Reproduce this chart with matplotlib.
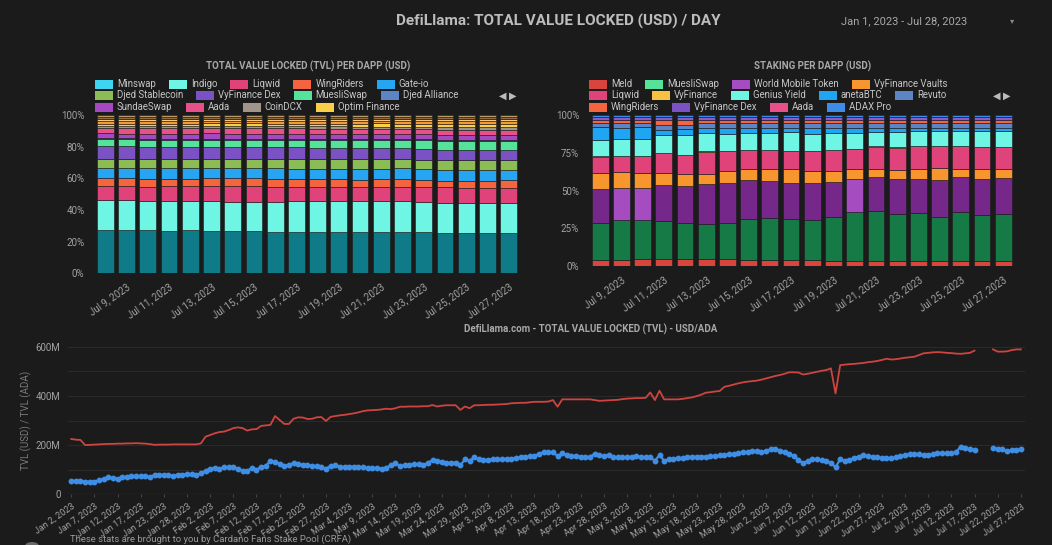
import numpy as np
import pandas as pd
import matplotlib
matplotlib.use('Agg')
import matplotlib.pyplot as plt
from matplotlib.patches import Rectangle, Ellipse

plt.rcParams['font.family'] = ['Roboto', 'DejaVu Sans']
plt.rcParams['axes.unicode_minus'] = False

# ---------------- data ----------------
# TVL per dApp (% share of TVL), Jul 8 .. Jul 27 2023
tvl_dates = pd.date_range('2023-07-08', '2023-07-27')
tvl_names = ['Minswap', 'Indigo', 'Liqwid', 'WingRiders', 'Gate-io', 'Djed Stablecoin',
             'VyFinance Dex', 'MuesliSwap', 'Djed Alliance', 'SundaeSwap', 'Aada', 'CoinDCX',
             'Optim Finance', 'other 1', 'other 2', 'other 3', 'other 4']
tvl_minswap = [27.4, 27.4, 26.9, 26.5, 26.7, 26.7, 26.7, 26.7, 25.9, 25.9, 25.9, 25.9, 25.7, 25.9, 25.9, 25.5, 25.1, 25.1, 25.1, 25.1]
tvl_indigo = [18.3, 18.3, 18.4, 18.3, 18.1, 18.4, 18.1, 18.1, 18.7, 18.9, 18.9, 18.7, 19.1, 19.2, 19.2, 19.1, 18.7, 18.9, 18.5, 18.5]
tvl_liqwid = [9.0, 9.0, 8.8, 9.5, 9.5, 9.6, 9.5, 9.5, 9.5, 9.3, 9.3, 9.1, 8.9, 9.0, 9.0, 9.1, 9.5, 9.3, 9.7, 9.7]
tvl_wingriders = [4.9, 4.9, 4.8, 4.6, 4.6, 4.9, 5.1, 5.1, 4.8, 4.8, 4.8, 4.6, 4.6, 4.8, 4.8, 4.6, 4.2, 4.2, 4.2, 4.6]
tvl_gateio = [6.7, 6.6, 6.6, 6.6, 6.6, 6.5, 6.5, 6.5, 6.5, 6.4, 6.4, 6.5, 6.4, 6.3, 6.5, 6.3, 6.4, 6.5, 6.5, 6.3]
tvl_djed = [5.7, 5.6, 5.8, 5.8, 5.8, 5.8, 5.7, 5.7, 5.9, 5.9, 5.9, 6.0, 6.1, 6.0, 5.9, 6.1, 6.2, 6.3, 6.3, 6.3]
tvl_vydex = [8.0, 7.9, 7.6, 7.5, 7.5, 7.5, 7.4, 7.4, 7.5, 7.4, 7.2, 7.0, 7.1, 7.0, 6.9, 6.8, 6.6, 6.5, 6.4, 6.3]
tvl_muesli = [4.2, 4.2, 4.4, 4.4, 4.4, 4.4, 4.4, 4.4, 4.3, 4.5, 4.6, 4.7, 4.8, 5.0, 4.8, 5.1, 5.2, 5.3, 5.4, 5.5]
tvl_djed_alliance = [0.6, 0.6, 0.6, 0.6, 0.6, 0.6, 0.6, 0.6, 0.6, 0.6, 0.6, 0.6, 0.6, 0.6, 0.6, 0.6, 0.6, 0.6, 0.6, 0.6]
tvl_sundae = [3.0, 3.1, 3.2, 3.3, 3.3, 3.3, 3.3, 3.3, 3.3, 3.3, 3.3, 3.3, 3.2, 3.2, 3.2, 3.2, 3.4, 3.4, 3.5, 3.4]
tvl_aada = [3.4, 3.4, 3.3, 3.3, 3.3, 3.3, 3.3, 3.3, 3.3, 3.3, 3.3, 3.3, 3.2, 3.2, 3.2, 3.2, 3.1, 3.1, 3.1, 3.0]
tvl_coindcx = [1.4, 1.5, 1.5, 1.5, 1.5, 1.5, 1.5, 1.5, 1.5, 1.5, 1.5, 1.5, 1.5, 1.5, 1.5, 1.5, 1.6, 1.6, 1.6, 1.6]
tvl_optim = [1.2, 1.3, 1.5, 1.5, 1.5, 1.5, 1.5, 1.5, 1.6, 1.6, 1.7, 1.8, 1.9, 1.9, 1.9, 2.0, 2.2, 2.3, 2.3, 2.3]
tvl_other1 = [1.7, 1.7, 1.6, 1.6, 1.6, 1.6, 1.6, 1.6, 1.6, 1.6, 1.6, 1.6, 1.6, 1.6, 1.6, 1.6, 1.6, 1.6, 1.6, 1.6]
tvl_other2 = [1.2, 1.1, 1.1, 1.1, 1.1, 1.1, 1.1, 1.1, 1.1, 1.1, 1.1, 1.1, 1.1, 1.1, 1.1, 1.1, 1.1, 1.1, 1.1, 1.1]
tvl_other3 = [1.3, 1.3, 1.3, 1.3, 1.3, 1.3, 1.3, 1.3, 1.3, 1.3, 1.3, 1.3, 1.3, 1.3, 1.3, 1.3, 1.3, 1.3, 1.3, 1.3]
tvl_other4 = [1.3, 1.3, 1.3, 1.3, 1.3, 1.3, 1.3, 1.3, 1.3, 1.3, 1.3, 1.3, 1.3, 1.3, 1.3, 1.3, 1.3, 1.3, 1.3, 1.3]

# Staking per dApp (% share), Jul 8 .. Jul 27 2023
stk_names = ['Meld', 'MuesliSwap', 'World Mobile Token', 'VyFinance Vaults', 'Liqwid', 'VyFinance',
             'Genius Yield', 'anetaBTC', 'Revuto', 'WingRiders', 'VyFinance Dex', 'Aada', 'ADAX Pro']
stk_meld = [3.8, 4.2, 5.0, 5.0, 5.0, 4.8, 4.5, 4.2, 4.2, 4.2, 3.8, 3.5, 3.5, 3.5, 3.5, 3.5, 3.5, 3.5, 3.5, 3.5]
stk_muesli = [24.6, 25.8, 25.4, 24.5, 23.4, 23.0, 23.9, 26.9, 27.1, 26.9, 26.6, 28.9, 32.2, 32.6, 30.4, 31.5, 28.9, 32.2, 30.0, 30.9]
stk_wmt = [22.0, 20.9, 21.1, 23.8, 23.8, 25.5, 26.0, 25.3, 24.2, 23.5, 23.8, 22.7, 21.1, 22.0, 23.1, 22.0, 24.0, 22.9, 23.5, 23.3]
stk_vaults = [10.4, 10.6, 10.0, 7.5, 8.2, 7.1, 8.2, 7.3, 8.2, 9.1, 7.9, 7.5, 6.4, 5.6, 6.0, 6.7, 7.9, 5.1, 6.7, 6.0]
stk_liqwid = [10.6, 10.5, 10.5, 13.2, 12.1, 14.3, 12.7, 12.1, 12.1, 11.6, 13.0, 13.2, 13.2, 14.3, 14.5, 14.7, 14.1, 14.7, 14.3, 14.3]
stk_vyfinance = [0.3, 0.3, 0.3, 0.3, 0.3, 0.3, 0.3, 0.3, 0.3, 0.3, 0.3, 0.3, 0.3, 0.3, 0.3, 0.3, 0.3, 0.3, 0.3, 0.3]
stk_genius = [10.7, 10.7, 11.2, 11.4, 12.9, 11.8, 11.2, 11.1, 11.1, 12.3, 10.9, 11.1, 10.1, 9.1, 10.1, 9.6, 9.6, 9.6, 10.0, 10.0]
stk_aneta = [8.3, 7.7, 7.7, 3.7, 3.7, 3.3, 3.7, 3.5, 3.3, 2.6, 4.0, 3.3, 3.5, 2.9, 2.6, 2.2, 2.2, 2.2, 2.2, 2.2]
stk_revuto = [2.8, 2.8, 2.6, 3.2, 3.0, 3.0, 3.0, 3.0, 3.2, 3.2, 3.2, 3.2, 3.2, 3.2, 3.2, 3.2, 3.2, 3.2, 3.2, 3.2]
stk_wingriders = [2.0, 2.2, 2.2, 3.2, 3.2, 2.2, 2.2, 2.0, 2.0, 2.0, 2.2, 2.0, 2.0, 2.0, 2.0, 2.0, 2.0, 2.0, 2.0, 2.0]
stk_vydex = [1.6, 1.6, 1.6, 1.6, 1.6, 1.6, 1.6, 1.6, 1.6, 1.6, 1.6, 1.6, 1.6, 1.6, 1.6, 1.6, 1.6, 1.6, 1.6, 1.6]
stk_aada = [0.6, 0.6, 0.6, 0.6, 0.6, 0.6, 0.6, 0.6, 0.6, 0.6, 0.6, 0.6, 0.6, 0.6, 0.6, 0.6, 0.6, 0.6, 0.6, 0.6]
stk_adax = [1.0, 1.0, 1.0, 1.0, 1.0, 1.0, 1.0, 1.0, 1.0, 1.0, 1.0, 1.0, 1.0, 1.0, 1.0, 1.0, 1.0, 1.0, 1.0, 1.0]

# Daily TVL Jan 2 .. Jul 27 2023 (no row for Jan 20), millions (nan = no data)
nan = np.nan
tvl_ada = [225, 222, 221, 200, 201, 202, 203, 204, 205, 205,
           206, 206, 207, 207, 208, 207, 206, 204, 201,
           202, 202, 202, 203, 203, 203, 203, 203, 203, 207,
           234, 241, 248, 253, 255, 261, 269, 272, 269, 259,
           264, 265, 278, 280, 282, 318, 302, 286, 286, 307,
           313, 312, 306, 307, 313, 314, 298, 315, 318, 321,
           323, 326, 329, 333, 338, 341, 342, 343, 345, 348,
           346, 350, 356, 356, 357, 357, 357, 358, 358, 363,
           357, 360, 362, 362, 362, 343, 357, 350, 362, 362,
           363, 364, 364, 365, 366, 367, 370, 371, 372, 372,
           374, 376, 376, 376, 377, 383, 356, 386, 386, 386,
           386, 386, 386, 386, 383, 380, 381, 382, 383, 384,
           387, 389, 390, 391, 391, 392, 414, 383, 421, 386,
           386, 386, 386, 388, 391, 394, 399, 405, 413, 415,
           418, 420, 437, 441, 446, 451, 455, 458, 460, 462,
           466, 471, 476, 481, 485, 490, 496, 496, 495, 487,
           490, 494, 498, 502, 505, 512, 410, 525, 527, 529,
           530, 532, 534, 537, 539, 542, 546, 551, 548, 549,
           552, 555, 557, 559, 566, 573, 575, 577, 578, 577,
           575, 574, 572, 571, 573, 575, 584, nan, nan, nan,
           589, 580, 580, 581, 586, 589, 589]
tvl_usd = [54, 54, 53, 52, 51, 52, 57, 61, 69, 67,
           64, 69, 72, 74, 75, 74, 74, 69, 80,
           80, 79, 77, 75, 80, 80, 83, 81, 79, 85,
           96, 104, 107, 104, 110, 110, 112, 104, 96, 95,
           107, 99, 112, 115, 137, 133, 123, 116, 119, 127,
           124, 118, 119, 115, 115, 112, 104, 116, 118, 112,
           111, 112, 112, 112, 110, 107, 106, 108, 104, 108,
           118, 126, 115, 118, 120, 123, 122, 118, 128, 139,
           136, 133, 129, 128, 129, 118, 142, 137, 150, 142,
           140, 140, 142, 142, 142, 145, 145, 148, 150, 153,
           155, 156, 164, 172, 170, 170, 156, 167, 159, 156,
           156, 153, 150, 153, 164, 159, 156, 159, 153, 150,
           150, 150, 153, 156, 150, 150, 150, 137, 159, 137,
           142, 145, 146, 148, 150, 153, 153, 153, 153, 155,
           156, 158, 160, 162, 165, 167, 170, 172, 174, 174,
           172, 176, 183, 186, 178, 172, 164, 156, 140, 126,
           136, 142, 142, 138, 134, 128, 110, 142, 137, 140,
           148, 153, 158, 156, 153, 150, 148, 148, 146, 150,
           155, 159, 162, 163, 162, 160, 160, 162, 167, 166,
           166, 166, 170, 194, 188, 185, 180, nan, nan, nan,
           187, 185, 183, 175, 179, 180, 183]
line_dates = pd.date_range('2023-01-02', '2023-07-27').drop(pd.Timestamp('2023-01-20'))

# ---------------- style ----------------
BG = '#1b1b1b'
TICK = '#a3a3a3'
LEGTXT = '#c6c6c6'
TITLE = '#bdbdbd'
W, H = 1052, 545

tvl_bar_colors = ['#107b88', '#6ef5e3', '#e0427a', '#f4643e', '#25a5f2', '#8cbd55', '#7b52c4',
                  '#55e29a', '#5b85c4', '#a449c0', '#e8508a', '#a19589', '#f7cf48',
                  '#f59a35', '#f3c87c', '#8c6b46', '#b79a6c']
tvl_leg_colors = ['#3fd4f2'] + tvl_bar_colors[1:13]
wmt_dark, wmt_light = '#75288a', '#a54cc0'
stk_bar_colors = ['#d9443d', '#157a45', [wmt_dark, wmt_light, wmt_light] + [wmt_dark] * 9 + [wmt_light] + [wmt_dark] * 7,
                  '#f7962f', '#e0427a', '#f7c242', '#6ef5e3', '#1fa6f2', '#5b85c4', '#f4643e',
                  '#8a5cc8', '#e8508a', '#3d8de8']
stk_leg_colors = ['#d9443d', '#55e29a', wmt_light, '#f7962f', '#e0427a', '#f7c242', '#6ef5e3',
                  '#1fa6f2', '#5b85c4', '#f4643e', '#7b52c4', '#e8508a', '#3d8de8']
RED = '#cf4440'
BLUE = '#3f8ee6'

fig = plt.figure(figsize=(W / 100, H / 100), dpi=100, facecolor=BG)


def fx(x):
    return x / W


def fy(y):
    return 1 - y / H


def axes_px(left, top, right, bottom):
    ax = fig.add_axes([fx(left), fy(bottom), (right - left) / W, (bottom - top) / H])
    ax.set_facecolor(BG)
    for s in ax.spines.values():
        s.set_visible(False)
    return ax


renderer = fig.canvas.get_renderer()


def draw_legend(rows, x0, ys):
    for row, y in zip(rows, ys):
        x = x0
        for label, col in row:
            fig.patches.append(Rectangle((fx(x), fy(y + 4.5)), 18 / W, 9 / H, transform=fig.transFigure,
                                         facecolor=col, edgecolor='none'))
            t = fig.text(fx(x + 22), fy(y), label, color=LEGTXT, fontsize=6.9, va='center', ha='left')
            x += 22 + t.get_window_extent(renderer).width + 13


def stacked(ax, series, colors):
    arr = np.array(series, dtype=float)
    arr = arr / arr.sum(axis=0) * 100
    xs = np.arange(arr.shape[1])
    bottom = np.zeros(arr.shape[1])
    for row, col in zip(arr, colors):
        ax.bar(xs, row, bottom=bottom, width=0.79, color=col, edgecolor=BG, linewidth=0.4)
        bottom += row
    ax.set_xlim(-0.6, len(xs) - 0.4)
    ax.set_ylim(0, 100)
    ax.set_xticks(xs[1::2])
    ax.set_xticklabels([f'{d:%b} {d.day}, {d.year}' for d in tvl_dates[1::2]],
                       rotation=35, ha='right', rotation_mode='anchor', fontsize=7, color=TICK)
    ax.tick_params(axis='both', length=0, pad=6)
    ax.tick_params(axis='y', labelsize=7, labelcolor=TICK)


# ---------------- header ----------------
fig.text(fx(558), fy(21), 'DefiLlama: TOTAL VALUE LOCKED (USD) / DAY', ha='center', va='center',
         fontsize=11, fontweight='bold', color=TITLE)
fig.text(fx(904), fy(21), 'Jan 1, 2023 - Jul 28, 2023', ha='center', va='center', fontsize=8, color='#a8a8a8')
fig.text(fx(1012), fy(21), '▾', ha='center', va='center', fontsize=6, color='#888888',
         family=['DejaVu Sans'])

# ---------------- left: TVL per dApp ----------------
fig.text(fx(308), fy(66), 'TOTAL VALUE LOCKED (TVL) PER DAPP (USD)', ha='center', va='center',
         fontsize=7, fontweight='bold', color='#a8a8a8')
tvl_items = list(zip(tvl_names[:13], tvl_leg_colors))
draw_legend([tvl_items[0:5], tvl_items[5:9], tvl_items[9:13]], 95, [84, 95.5, 107])
fig.text(fx(503), fy(95.5), '◀', ha='center', va='center', fontsize=7, color='#bbbbbb', family=['DejaVu Sans'])
fig.text(fx(513), fy(95.5), '▶', ha='center', va='center', fontsize=7, color='#bbbbbb', family=['DejaVu Sans'])

ax1 = axes_px(92.7, 115, 521.3, 273.3)
stacked(ax1, [tvl_minswap, tvl_indigo, tvl_liqwid, tvl_wingriders, tvl_gateio, tvl_djed, tvl_vydex,
              tvl_muesli, tvl_djed_alliance, tvl_sundae, tvl_aada, tvl_coindcx, tvl_optim,
              tvl_other1, tvl_other2, tvl_other3, tvl_other4], tvl_bar_colors)
ax1.set_yticks([0, 20, 40, 60, 80, 100])
ax1.set_yticklabels(['0%', '20%', '40%', '60%', '80%', '100%'])

# ---------------- right: staking per dApp ----------------
fig.text(fx(813), fy(66), 'STAKING PER DAPP (USD)', ha='center', va='center',
         fontsize=7, fontweight='bold', color='#a8a8a8')
stk_items = list(zip(stk_names, stk_leg_colors))
draw_legend([stk_items[0:4], stk_items[4:9], stk_items[9:13]], 589, [84, 95.5, 107])
fig.text(fx(997), fy(95.5), '◀', ha='center', va='center', fontsize=7, color='#bbbbbb', family=['DejaVu Sans'])
fig.text(fx(1007), fy(95.5), '▶', ha='center', va='center', fontsize=7, color='#bbbbbb', family=['DejaVu Sans'])

ax2 = axes_px(587.4, 115, 1016, 266.3)
stacked(ax2, [stk_meld, stk_muesli, stk_wmt, stk_vaults, stk_liqwid, stk_vyfinance, stk_genius,
              stk_aneta, stk_revuto, stk_wingriders, stk_vydex, stk_aada, stk_adax], stk_bar_colors)
ax2.set_yticks([0, 25, 50, 75, 100])
ax2.set_yticklabels(['0%', '25%', '50%', '75%', '100%'])

# ---------------- bottom: daily TVL line chart ----------------
fig.text(fx(591), fy(329.5), 'DefiLlama.com - TOTAL VALUE LOCKED (TVL) - USD/ADA', ha='center', va='center',
         fontsize=7, fontweight='bold', color='#a8a8a8')
ax3 = axes_px(67.5, 346.7, 1025, 494.3)
xd = np.arange(len(line_dates))
ax3.plot(xd, tvl_ada, color=RED, lw=1.3, zorder=3)
ax3.plot(xd, tvl_usd, color=BLUE, lw=1.6, marker='o', ms=3.2, zorder=3)
ax3.set_xlim(-0.8, len(xd) - 0.1)
ax3.set_ylim(0, 600)
ax3.set_yticks([0, 200, 400, 600])
ax3.set_yticklabels(['0', '200M', '400M', '600M'])
ax3.set_yticks([100, 300, 500], minor=True)
ax3.grid(axis='y', which='both', color='#2a2a2a', lw=0.8, zorder=0)
ax3.axhline(0, color='#3c3c3c', lw=0.9, zorder=1)
ax3.tick_params(axis='y', which='both', length=0, pad=5, labelsize=7, labelcolor=TICK)
ax3.set_xticks(xd[::5])
ax3.set_xticklabels([f'{d:%b} {d.day}, {d.year}' for d in line_dates[::5]],
                    rotation=35, ha='right', rotation_mode='anchor', fontsize=6.5, color=TICK)
ax3.tick_params(axis='x', length=2.5, color='#444444', pad=3)
ax3.set_ylabel('TVL (USD) / TVL (ADA)', fontsize=7, color='#7a7a7a', labelpad=3)

# footer
fig.patches.append(Ellipse((fx(32), fy(546)), 14 / W, 8 / H, transform=fig.transFigure,
                           facecolor='#6a6a6a', edgecolor='none'))
fig.text(fx(70), fy(544.5), 'These stats are brought to you by Cardano Fans Stake Pool (CRFA)',
         ha='left', va='bottom', fontsize=6.8, color='#9a9a9a')

fig.savefig('out.png', dpi=100, facecolor=BG)
